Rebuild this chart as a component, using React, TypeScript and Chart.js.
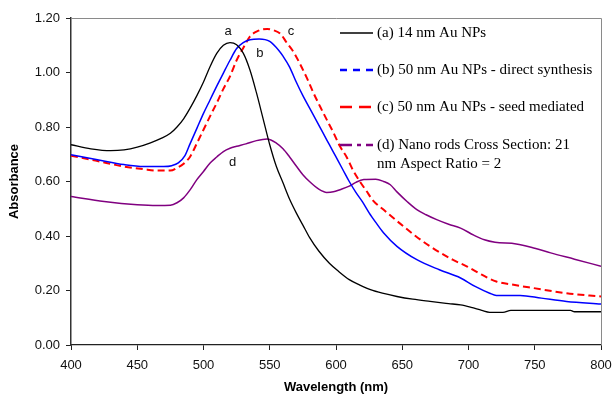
import React, { useEffect, useRef } from "react";
import { Chart, registerables } from "chart.js";

Chart.register(...registerables);

// (a) 14 nm Au NPs
const aWave = [400, 415, 430, 440, 450, 460, 468, 475, 480, 485, 490, 495, 500, 505, 510, 515, 520, 525, 530, 535, 540, 545, 550, 555, 560, 565, 570, 575, 580, 587, 595, 602, 610, 618, 626, 635, 646, 658, 671, 685, 694, 702, 710, 716, 726, 732, 777, 780, 800];
const aAbs = [0.735, 0.72, 0.713, 0.716, 0.726, 0.742, 0.758, 0.777, 0.8, 0.83, 0.87, 0.915, 0.965, 1.022, 1.07, 1.1, 1.11, 1.102, 1.071, 1.01, 0.925, 0.83, 0.735, 0.655, 0.595, 0.535, 0.485, 0.44, 0.395, 0.345, 0.3, 0.27, 0.24, 0.22, 0.203, 0.19, 0.178, 0.168, 0.16, 0.152, 0.147, 0.138, 0.127, 0.12, 0.12, 0.127, 0.127, 0.122, 0.122];

// (b) 50 nm Au NPs - direct synthesis
const bWave = [400, 420, 440, 455, 470, 476, 481, 486, 490, 495, 500, 505, 510, 515, 520, 525, 530, 535, 542, 550, 557, 560, 565, 570, 575, 580, 585, 590, 595, 600, 605, 610, 615, 620, 625, 630, 636, 646, 661, 678, 694, 705, 716, 721, 739, 755, 774, 800];
const bAbs = [0.698, 0.68, 0.662, 0.655, 0.655, 0.658, 0.668, 0.695, 0.74, 0.795, 0.85, 0.9, 0.95, 0.998, 1.045, 1.088, 1.11, 1.12, 1.123, 1.114, 1.08, 1.06, 1.02, 0.965, 0.915, 0.87, 0.825, 0.78, 0.735, 0.69, 0.645, 0.6, 0.56, 0.525, 0.485, 0.45, 0.411, 0.362, 0.313, 0.276, 0.246, 0.215, 0.19, 0.182, 0.182, 0.172, 0.16, 0.15];

// (c) 50 nm Au NPs - seed mediated
const cWave = [400, 420, 440, 455, 465, 475, 480, 485, 490, 495, 500, 505, 510, 515, 520, 525, 530, 535, 540, 548, 553, 558, 563, 568, 573, 578, 583, 588, 593, 598, 603, 608, 613, 618, 623, 628, 636, 651, 660, 671, 688, 699, 710, 721, 735, 749, 774, 800];
const cAbs = [0.695, 0.675, 0.655, 0.645, 0.64, 0.64, 0.65, 0.665, 0.692, 0.74, 0.79, 0.84, 0.888, 0.94, 0.986, 1.045, 1.09, 1.132, 1.15, 1.16, 1.155, 1.142, 1.108, 1.075, 1.03, 0.98, 0.925, 0.875, 0.827, 0.78, 0.729, 0.69, 0.64, 0.6, 0.565, 0.53, 0.496, 0.435, 0.4, 0.362, 0.313, 0.288, 0.258, 0.233, 0.22, 0.209, 0.19, 0.178];

// (d) Nano rods
const dWave = [400, 425, 450, 465, 475, 480, 485, 490, 495, 500, 505, 510, 515, 520, 525, 532, 540, 548, 555, 560, 565, 570, 575, 580, 587, 593, 598, 603, 610, 615, 621, 630, 636, 641, 646, 654, 661, 668, 676, 685, 694, 704, 712, 720, 736, 750, 762, 780, 800];
const dAbs = [0.545, 0.527, 0.515, 0.512, 0.513, 0.522, 0.54, 0.57, 0.607, 0.637, 0.668, 0.69, 0.71, 0.722, 0.729, 0.738, 0.75, 0.756, 0.741, 0.72, 0.69, 0.657, 0.625, 0.6, 0.572, 0.56, 0.562, 0.57, 0.583, 0.597, 0.607, 0.608, 0.6, 0.588, 0.562, 0.525, 0.497, 0.478, 0.46, 0.443, 0.429, 0.403, 0.386, 0.377, 0.371, 0.355, 0.338, 0.315, 0.289];

const seriesNames = [
  ["(a) 14 nm Au NPs"],
  ["(b) 50 nm Au NPs - direct synthesis"],
  ["(c) 50 nm Au NPs - seed mediated"],
  ["(d) Nano rods Cross Section: 21", "nm Aspect Ratio = 2"],
];
const seriesColors = ["#000000", "#0000ff", "#ff0000", "#800080"];

const curveLetters = ["a", "b", "c", "d"];
const letterWave = [518.5, 542.6, 566, 522];
const letterAbs = [1.15, 1.069, 1.15, 0.669];

const xTitle = "Wavelength (nm)";
const yTitle = "Absorbance";

const toPts = (w: number[], v: number[]) => w.map((x, i) => ({ x, y: v[i] }));

const overlay = {
  id: "overlay",
  afterDraw(chart: any) {
    const { ctx, chartArea, scales } = chart;
    const { left, right, top, bottom } = chartArea;
    ctx.save();
    // top / right frame
    ctx.strokeStyle = "#8a8a8a";
    ctx.lineWidth = 1;
    ctx.beginPath();
    ctx.moveTo(left, top + 0.5);
    ctx.lineTo(right + 0.5, top + 0.5);
    ctx.lineTo(right + 0.5, bottom);
    ctx.stroke();

    // curve letters
    ctx.fillStyle = "#111";
    ctx.font = "13px 'Liberation Sans', Arial, sans-serif";
    ctx.textAlign = "center";
    ctx.textBaseline = "middle";
    curveLetters.forEach((t, i) => {
      ctx.fillText(t, scales.x.getPixelForValue(letterWave[i]), scales.y.getPixelForValue(letterAbs[i]));
    });

    // legend
    const dashes = [[], [7, 6], [12, 7], [12, 5, 4, 5]];
    const rowY = [15, 52, 89, 127];
    const sx0 = right - 261;
    const sx1 = right - 228;
    const tx = right - 224;
    ctx.font = "15px 'Liberation Serif', 'Times New Roman', serif";
    ctx.textAlign = "left";
    ctx.fillStyle = "#000";
    seriesNames.forEach((lines, i) => {
      const y = top + rowY[i];
      ctx.strokeStyle = seriesColors[i];
      ctx.lineWidth = i === 0 ? 1.5 : 2.5;
      ctx.setLineDash(dashes[i]);
      ctx.beginPath();
      ctx.moveTo(sx0, y);
      ctx.lineTo(sx1, y);
      ctx.stroke();
      ctx.setLineDash([]);
      lines.forEach((ln, j) => ctx.fillText(ln, tx, y + j * 19));
    });
    ctx.restore();
  },
};

export default function App() {
  const ref = useRef<HTMLCanvasElement | null>(null);
  useEffect(() => {
    if (!ref.current) return;
    const tickFont = { family: "'Liberation Sans', Arial, sans-serif", size: 13 };
    const titleFont = { family: "'Liberation Sans', Arial, sans-serif", size: 13, weight: "bold" as const, lineHeight: 1 };
    const chart = new Chart(ref.current, {
      type: "line",
      data: {
        datasets: [
          { label: seriesNames[0].join(" "), data: toPts(aWave, aAbs), borderColor: seriesColors[0], borderWidth: 1.3 },
          { label: seriesNames[1].join(" "), data: toPts(bWave, bAbs), borderColor: seriesColors[1], borderWidth: 1.5 },
          { label: seriesNames[2].join(" "), data: toPts(cWave, cAbs), borderColor: seriesColors[2], borderWidth: 2, borderDash: [7, 4] },
          { label: seriesNames[3].join(" "), data: toPts(dWave, dAbs), borderColor: seriesColors[3], borderWidth: 1.5 },
        ].map((d) => ({ ...d, pointRadius: 0, fill: false, cubicInterpolationMode: "monotone" as const })),
      },
      options: {
        animation: false,
        responsive: false,
        devicePixelRatio: 1,
        layout: { padding: { left: 0, top: 18, right: 12, bottom: 0 } },
        plugins: { legend: { display: false }, tooltip: { enabled: false } },
        scales: {
          x: {
            type: "linear",
            min: 400,
            max: 800,
            ticks: { stepSize: 50, font: tickFont, color: "#111", padding: 8 },
            grid: { drawOnChartArea: false, drawTicks: true, tickLength: 5, color: "#222", lineWidth: 1 },
            border: { display: true, color: "#222", width: 1.3 },
            title: { display: true, text: xTitle, font: titleFont, color: "#000", padding: { top: 0, bottom: 0 } },
            afterFit: (s: any) => { s.height = 49; s.paddingRight = 0; s.paddingLeft = 0; },
          },
          y: {
            type: "linear",
            min: 0,
            max: 1.2,
            ticks: { stepSize: 0.2, font: tickFont, color: "#111", padding: 6, callback: (v: any) => Number(v).toFixed(2) },
            grid: { drawOnChartArea: false, drawTicks: true, tickLength: 5, color: "#222", lineWidth: 1 },
            border: { display: true, color: "#333", width: 1.5 },
            title: { display: true, text: yTitle, font: titleFont, color: "#000", padding: { top: 8, bottom: 0 } },
            afterFit: (s: any) => { s.width = 71; s.paddingTop = 0; s.paddingBottom = 0; },
          },
        },
      },
      plugins: [overlay],
    });
    return () => chart.destroy();
  }, []);
  return (
    <div style={{ position: "fixed", left: 0, top: 0, width: 613, height: 394, background: "#fff" }}>
      <canvas ref={ref} width={613} height={394} style={{ display: "block", width: 613, height: 394 }} />
    </div>
  );
}
